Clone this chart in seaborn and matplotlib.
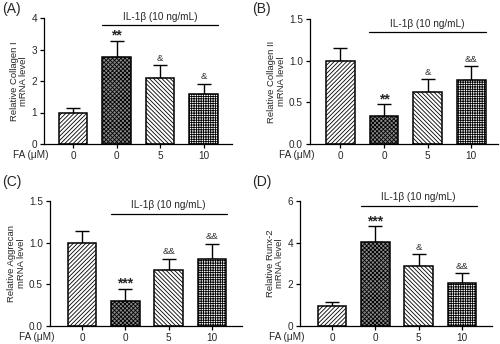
import matplotlib
matplotlib.use('Agg')
import matplotlib.pyplot as plt
import seaborn as sns
import pandas as pd
from matplotlib.transforms import blended_transform_factory

sns.set_theme(style='ticks')
plt.rcParams['font.family'] = ['Liberation Sans', 'DejaVu Sans']
plt.rcParams['hatch.linewidth'] = 0.6

groups = ['Control', 'IL-1b', 'IL-1b+FA5', 'IL-1b+FA10']
fa_labels = ['0', '0', '5', '10']

mean_a = [1.0, 2.75, 2.1, 1.6]
err_a = [0.14, 0.53, 0.42, 0.32]
mean_b = [1.0, 0.34, 0.62, 0.77]
err_b = [0.15, 0.14, 0.16, 0.17]
mean_c = [1.0, 0.30, 0.67, 0.81]
err_c = [0.14, 0.15, 0.14, 0.18]
mean_d = [0.97, 4.02, 2.86, 2.08]
err_d = [0.16, 0.78, 0.58, 0.48]

sig_a = ['', '**', '&', '&']
sig_b = ['', '**', '&', '&&']
sig_c = ['', '***', '&&', '&&']
sig_d = ['', '***', '&', '&&']

ylabels = ['Relative Collagen I\nmRNA level', 'Relative Collagen II\nmRNA level',
           'Relative Aggrecan\nmRNA level', 'Relative Runx-2\nmRNA level']
panel_tags = ['(A)', '(B)', '(C)', '(D)']
yticks_all = [[0, 1, 2, 3, 4], [0.0, 0.5, 1.0, 1.5], [0.0, 0.5, 1.0, 1.5], [0, 2, 4, 6]]
ytick_fmt = ['{:.0f}', '{:.1f}', '{:.1f}', '{:.0f}']
treatment = 'IL-1β (10 ng/mL)'

W, H = 500, 344
fig = plt.figure(figsize=(5.0, 3.44), dpi=100)

# pixel rects: left, top, right, bottom
rects = [(44, 18, 232, 144), (310, 19, 498, 144), (50, 201, 242, 326), (300, 201, 492, 326)]
xlims = [(-0.667, 3.655), (-0.694, 3.61), (-0.738, 3.69), (-0.738, 3.69)]
line_frac = [0.944, 0.896, 0.898, 0.962]
tag_pos = [(2, 9), (252, 9), (2, 182), (252, 182)]

hatches = ['////////', 'xxxxxxxx', '\\\\\\\\\\\\\\\\', '+++++++']
faces = ['white', '#8a8a8a', 'white', 'white']

panels = [(mean_a, err_a, sig_a), (mean_b, err_b, sig_b), (mean_c, err_c, sig_c), (mean_d, err_d, sig_d)]

FS = 7.2

for i, (means, errs, sigs) in enumerate(panels):
    l, t, r, b = rects[i]
    ax = fig.add_axes([l / W, (H - b) / H, (r - l) / W, (b - t) / H])
    df = pd.DataFrame({'group': groups, 'value': means})
    sns.barplot(data=df, x='group', y='value', order=groups, color='white',
                edgecolor='black', linewidth=1.1, width=0.66, ax=ax, errorbar=None)
    for p, h, fc in zip(ax.patches, hatches, faces):
        p.set_hatch(h)
        p.set_facecolor(fc)
        p.set_edgecolor('black')
        p.set_zorder(2)
    xs = list(range(len(groups)))
    ax.errorbar(xs, means, yerr=[[0] * 4, errs], fmt='none', ecolor='black',
                elinewidth=1.0, capsize=5, capthick=1.0, zorder=1)
    ymax = yticks_all[i][-1]
    ax.set_ylim(0, ymax)
    ax.set_xlim(*xlims[i])
    ax.set_yticks(yticks_all[i])
    ax.set_yticklabels([ytick_fmt[i].format(v) for v in yticks_all[i]])
    ax.set_xticks(xs)
    ax.set_xticklabels(fa_labels)
    ax.set_xlabel('')
    ax.set_ylabel(ylabels[i], fontsize=6.8, labelpad=2.5, linespacing=1.05)
    ax.tick_params(axis='both', labelsize=FS, length=3, width=0.9, pad=2, color='black')
    for s in ['top', 'right']:
        ax.spines[s].set_visible(False)
    for s in ['left', 'bottom']:
        ax.spines[s].set_linewidth(0.9)
        ax.spines[s].set_color('black')
    # significance marks
    for x, m, e, s in zip(xs, means, errs, sigs):
        if not s:
            continue
        if '*' in s:
            ax.annotate(s, (x, m + e), xytext=(0, -1.5), textcoords='offset points',
                        ha='center', va='bottom', fontsize=10, fontweight='bold')
        else:
            ax.annotate(s, (x, m + e), xytext=(0, 1.5), textcoords='offset points',
                        ha='center', va='bottom', fontsize=6.8)
    trans = blended_transform_factory(ax.transData, ax.transAxes)
    ax.plot([1 - 0.34, 3 + 0.34], [line_frac[i]] * 2, color='black', lw=0.9,
            transform=trans, clip_on=False)
    ax.annotate(treatment, (2, line_frac[i]), xycoords=trans, xytext=(0, 2.5),
                textcoords='offset points', ha='center', va='bottom', fontsize=FS)
    ax.annotate('FA (μM)', (0, 0), xycoords='axes fraction', xytext=(3, -7.8),
                textcoords='offset points', ha='right', va='center', fontsize=FS)
    fig.text(tag_pos[i][0] / W, 1 - tag_pos[i][1] / H, panel_tags[i],
             ha='left', va='center', fontsize=10)

fig.savefig('out.png', dpi=100, facecolor='white')
